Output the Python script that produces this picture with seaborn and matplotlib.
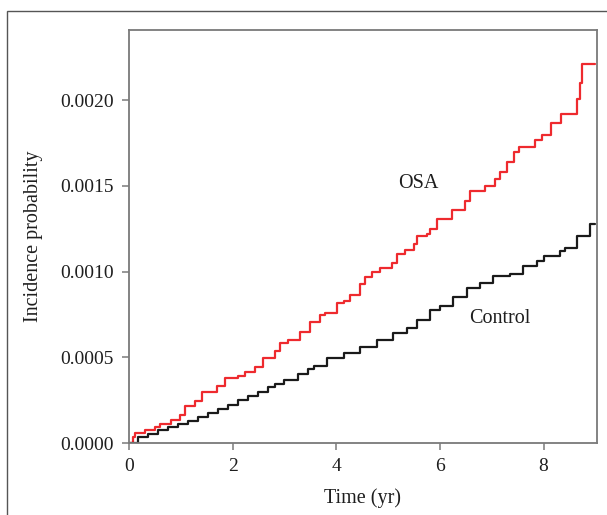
import matplotlib
matplotlib.use("Agg")
import matplotlib.pyplot as plt
from matplotlib.patches import Rectangle
import seaborn as sns
import pandas as pd

# ---- data ----
osa_time = [0, 0.07, 0.11, 0.30, 0.50, 0.59, 0.82, 0.98, 1.08, 1.27, 1.40, 1.69,
            1.85, 2.10, 2.23, 2.43, 2.59, 2.81, 2.92, 3.07, 3.30, 3.49, 3.69, 3.79,
            4.01, 4.14, 4.27, 4.46, 4.56, 4.69, 4.85, 5.07, 5.17, 5.33, 5.49, 5.55,
            5.75, 5.81, 5.94, 6.23, 6.49, 6.58, 6.87, 7.07, 7.16, 7.29, 7.42, 7.52,
            7.84, 7.97, 8.15, 8.33, 8.65, 8.70, 8.74, 9.0]
osa_prob = [0, 0.000033, 0.000056, 0.000076, 0.000091, 0.00011, 0.000134, 0.000163,
            0.000218, 0.000245, 0.0003, 0.00033, 0.000378, 0.00039, 0.000416,
            0.000445, 0.000495, 0.000535, 0.000583, 0.0006, 0.000646, 0.000707,
            0.000746, 0.00076, 0.000815, 0.00083, 0.000865, 0.000925, 0.00097,
            0.001, 0.00102, 0.00105, 0.0011, 0.001125, 0.00116, 0.00121, 0.00122,
            0.00125, 0.00131, 0.00136, 0.00141, 0.00147, 0.0015, 0.00154, 0.00158,
            0.00164, 0.0017, 0.00173, 0.00177, 0.0018, 0.00187, 0.00192, 0.00201,
            0.0021, 0.00221, 0.00221]

ctrl_time = [0, 0.17, 0.37, 0.56, 0.75, 0.95, 1.14, 1.33, 1.53, 1.72, 1.91, 2.10,
             2.30, 2.49, 2.68, 2.81, 3.00, 3.26, 3.46, 3.56, 3.82, 4.14, 4.46, 4.78,
             5.10, 5.36, 5.55, 5.81, 6.00, 6.26, 6.52, 6.78, 7.03, 7.36, 7.61, 7.87,
             8.00, 8.32, 8.42, 8.64, 8.89, 9.0]
ctrl_prob = [0, 0.000033, 0.000052, 0.000075, 0.000093, 0.000112, 0.000128,
             0.00015, 0.000175, 0.000196, 0.000224, 0.000251, 0.000274, 0.000299,
             0.000325, 0.000344, 0.000367, 0.0004, 0.00043, 0.000448, 0.000494,
             0.000523, 0.000558, 0.0006, 0.00064, 0.000669, 0.000717, 0.000776,
             0.000802, 0.000853, 0.000902, 0.000931, 0.000974, 0.000985, 0.00103,
             0.00106, 0.00109, 0.00112, 0.00114, 0.00121, 0.00128, 0.00128]

x_ticks = [0, 2, 4, 6, 8]
y_ticks = [0.0, 0.0005, 0.0010, 0.0015, 0.0020]
y_tick_labels = ["0.0000", "0.0005", "0.0010", "0.0015", "0.0020"]

df = pd.concat([
    pd.DataFrame({"time": osa_time, "prob": osa_prob, "group": "OSA"}),
    pd.DataFrame({"time": ctrl_time, "prob": ctrl_prob, "group": "Control"}),
])

sns.set_style("ticks")
plt.rcParams["font.family"] = ["Liberation Serif", "DejaVu Serif"]

fig = plt.figure(figsize=(6.07, 5.15), dpi=100)
ax = fig.add_axes([129 / 607, 1 - 443 / 515, (597 - 129) / 607, (443 - 30) / 515])

palette = {"OSA": "#ee2a2e", "Control": "#1a1a1a"}
sns.lineplot(data=df, x="time", y="prob", hue="group", palette=palette,
             estimator=None, sort=False, drawstyle="steps-post", linewidth=1.6,
             legend=False, ax=ax)

ax.set_xlim(0, 9.03)
ax.set_ylim(0, 0.00241)
ax.set_xticks(x_ticks)
ax.set_xticklabels([str(t) for t in x_ticks])
ax.set_yticks(y_ticks)
ax.set_yticklabels(y_tick_labels)

spine_col = "#7a7a7a"
for s in ax.spines.values():
    s.set_visible(True)
    s.set_color(spine_col)
    s.set_linewidth(1.3)
ax.tick_params(axis="both", direction="out", length=5, width=1.1, color=spine_col,
               labelsize=14, labelcolor="#1e1e1e", pad=6)

ax.set_xlabel("Time (yr)", fontsize=14.5, color="#1e1e1e", labelpad=9)
ax.set_ylabel("Incidence probability", fontsize=14.5, color="#1e1e1e", labelpad=12)

ax.text(5.58, 0.001516, "OSA", fontsize=14.5, color="#1e1e1e", ha="center", va="center")
ax.text(7.16, 0.000729, "Control", fontsize=14.5, color="#1e1e1e", ha="center", va="center")

# figure frame (partially cropped in the reference)
fig.patches.append(Rectangle((7 / 607, -0.2), 1.2, 0.2 + (1 - 11 / 515),
                             transform=fig.transFigure, fill=False,
                             edgecolor="#555555", linewidth=1.0))

fig.savefig("out.png", dpi=100)
